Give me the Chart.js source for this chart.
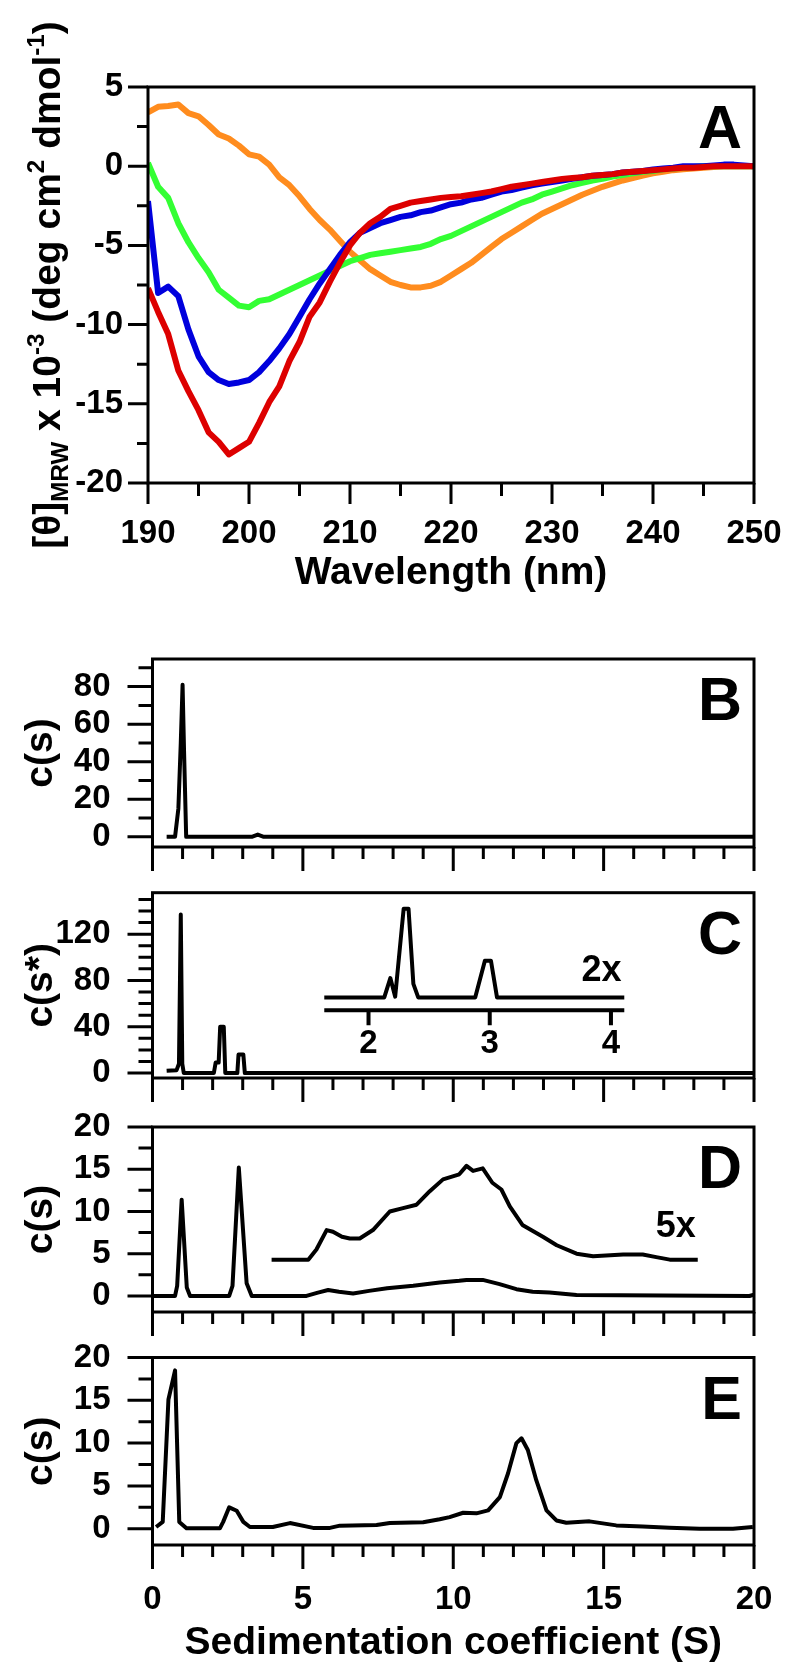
<!DOCTYPE html>
<html>
<head>
<meta charset="utf-8">
<script src="https://cdn.jsdelivr.net/npm/chart.js@4.4.1/dist/chart.umd.min.js"></script>
<style>
  html, body { margin: 0; padding: 0; background: #fff; }
  #wrap { position: relative; width: 800px; height: 1679px; overflow: hidden; }
  canvas { position: absolute; left: 0; }
</style>
</head>
<body>
<div id="wrap">
  <canvas id="cA"></canvas>
  <canvas id="cB"></canvas>
  <canvas id="cC"></canvas>
  <canvas id="cD"></canvas>
  <canvas id="cE"></canvas>
</div>
<script>
const FONT = '"Liberation Sans", Arial, Helvetica, sans-serif';

// ---------- Panel A : CD spectra ----------
const wavelength = [190,191,192,193,194,195,196,197,198,199,200,201,202,203,204,205,206,207,208,209,
  210,211,212,213,214,215,216,217,218,219,220,221,222,223,224,225,226,227,228,229,
  230,231,232,233,234,235,236,237,238,239,240,241,242,243,244,245,246,247,248,249,250];
const redMRW = [-7.7,-9.2,-10.6,-12.9,-14.2,-15.4,-16.8,-17.4,-18.2,-17.8,-17.4,-16.2,-14.9,-13.9,-12.3,-11.1,-9.5,-8.6,-7.3,-6.1,
  -5.0,-4.2,-3.6,-3.2,-2.7,-2.5,-2.3,-2.2,-2.1,-2.0,-1.95,-1.9,-1.8,-1.7,-1.6,-1.45,-1.3,-1.2,-1.1,-1.0,
  -0.9,-0.8,-0.75,-0.7,-0.6,-0.55,-0.5,-0.4,-0.35,-0.3,-0.25,-0.2,-0.15,-0.1,-0.1,-0.05,0,0,0,0,0];
const blueMRW = [-2.2,-8.0,-7.6,-8.2,-10.3,-12.0,-13.0,-13.5,-13.75,-13.65,-13.5,-13.0,-12.3,-11.5,-10.6,-9.5,-8.4,-7.4,-6.5,-5.6,
  -4.8,-4.2,-3.9,-3.6,-3.4,-3.2,-3.1,-2.9,-2.8,-2.6,-2.4,-2.3,-2.1,-2.0,-1.8,-1.6,-1.5,-1.35,-1.2,-1.1,
  -1.0,-0.9,-0.8,-0.7,-0.6,-0.55,-0.5,-0.4,-0.35,-0.3,-0.2,-0.15,-0.1,0,0,0,0.05,0.1,0.1,0.05,0];
const greenMRW = [0.2,-1.3,-2.0,-3.6,-4.8,-5.8,-6.7,-7.8,-8.3,-8.8,-8.9,-8.5,-8.4,-8.1,-7.8,-7.5,-7.2,-6.9,-6.6,-6.3,
  -6.0,-5.8,-5.6,-5.5,-5.4,-5.3,-5.2,-5.1,-4.9,-4.6,-4.4,-4.1,-3.8,-3.5,-3.2,-2.9,-2.6,-2.3,-2.1,-1.8,
  -1.6,-1.4,-1.2,-1.05,-0.9,-0.8,-0.65,-0.55,-0.45,-0.35,-0.3,-0.2,-0.15,-0.1,-0.05,0,0,0,0,0,0];
const orangeMRW = [3.4,3.75,3.8,3.9,3.35,3.15,2.6,2.0,1.75,1.3,0.75,0.6,0.1,-0.7,-1.2,-1.9,-2.7,-3.4,-4.0,-4.7,
  -5.4,-5.95,-6.5,-6.9,-7.3,-7.5,-7.65,-7.65,-7.55,-7.3,-6.9,-6.5,-6.1,-5.6,-5.1,-4.6,-4.2,-3.8,-3.4,-3.0,
  -2.7,-2.4,-2.1,-1.8,-1.55,-1.3,-1.1,-0.9,-0.75,-0.6,-0.45,-0.35,-0.25,-0.2,-0.15,-0.1,-0.05,0,0,0,0];
const aXMajor = [190,200,210,220,230,240,250];
const aXMinor = [195,205,215,225,235,245];
const aYMajor = [-20,-15,-10,-5,0,5];
const aYMinor = [-17.5,-12.5,-7.5,-2.5,2.5];

// ---------- Panels B-E : sedimentation distributions ----------
const sMajor = [0,5,10,15,20];
const sMinor = [1,2,3,4,6,7,8,9,11,12,13,14,16,17,18,19];

const bS = [0.47,0.75,0.86,0.94,1.0,1.05,1.12,3.3,3.5,3.7,20];
const bC = [0,0,15,50,81,45,0,0,1.2,0,0];
const bYMajor = [0,20,40,60,80];
const bYMinor = [10,30,50,70,90];

const cS = [0.47,0.8,0.88,0.94,0.99,1.04,2.04,2.1,2.2,2.25,2.37,2.42,2.82,2.86,3.02,3.07,20];
const cC = [2,2.5,8,137,8,0,0,9,9,40,40,0,0,16,16,0,0];
const cYMajor = [0,40,80,120];
const cYMinor = [10,20,30,50,60,70,90,100,110,130,140,150];
// inset (2x) of panel C, drawn on its own s-axis
const insetS = [1.635,2.13,2.18,2.22,2.29,2.33,2.37,2.41,2.88,2.96,3.01,3.06,4.11];
const insetC = [65.3,65.3,82,66,142,142,77,65.3,65.3,97,97,65.3,65.3];
const insetTicks = [2,3,4];

const dS = [0,0.75,0.82,0.97,1.14,1.25,2.55,2.66,2.87,3.13,3.3,5.12,5.5,5.84,6.2,6.67,7.2,7.8,8.67,9.55,10.2,10.44,10.98,11.54,12.1,12.64,13.2,14.1,19.85,20];
const dC = [0,0,1.2,11.4,1.0,0,0,1.2,15.2,1.5,0,0,0.4,0.7,0.5,0.3,0.6,0.9,1.2,1.6,1.8,1.9,1.9,1.4,0.8,0.5,0.4,0.1,0,0.15];
// 5x expanded trace of panel D
const d5S = [3.96,5.18,5.45,5.79,6.0,6.3,6.56,6.89,7.33,7.89,8.33,8.78,9.22,9.66,10.2,10.44,10.66,10.98,11.3,11.6,11.88,12.3,12.98,13.44,14.1,14.65,15.65,16.3,16.75,17.2,18.13];
const d5C = [4.3,4.3,5.5,7.8,7.6,7.0,6.8,6.8,7.8,10.0,10.4,10.8,12.4,13.8,14.4,15.4,14.8,15.1,13.4,12.6,10.6,8.4,7.0,6.0,5.0,4.7,4.9,4.9,4.6,4.3,4.3];
const dYMajor = [0,5,10,15,20];
const dYMinor = [2.5,7.5,12.5,17.5];

const eS = [0.12,0.34,0.53,0.75,0.89,1.13,2.24,2.35,2.55,2.8,3.02,3.24,4.0,4.57,5.34,5.9,6.23,7.45,7.89,9.0,9.55,9.88,10.33,10.77,11.16,11.55,11.82,12.1,12.27,12.48,12.76,13.1,13.43,13.76,14.53,15.42,16.3,17.19,18.19,19.3,19.96];
const eC = [0.2,0.8,15.1,18.5,0.8,0.05,0.05,0.8,2.5,2.1,0.8,0.2,0.2,0.66,0.1,0.1,0.36,0.43,0.67,0.75,1.1,1.36,1.87,1.8,2.15,3.7,6.45,10.0,10.56,9.2,5.67,2.15,0.97,0.7,0.86,0.39,0.27,0.11,0,0,0.2];
const eYMajor = [0,5,10,15,20];
const eYMinor = [2.5,7.5,12.5,17.5];

const pts = (xs, ys) => xs.map((x, i) => ({ x: x, y: ys[i] }));

function line(ctx, x1, y1, x2, y2) { ctx.moveTo(x1, y1); ctx.lineTo(x2, y2); }

// vertical text made of pieces (normal, sub, sup)
function richVertical(ctx, parts, cx, cy, size) {
  ctx.save();
  ctx.translate(cx, cy);
  ctx.rotate(-Math.PI / 2);
  let total = 0;
  parts.forEach(p => {
    ctx.font = 'bold ' + (p.s ? size * 0.62 : size) + 'px ' + FONT;
    p.w = ctx.measureText(p.t).width;
    total += p.w;
  });
  let x = -total / 2;
  ctx.textAlign = 'left';
  ctx.textBaseline = 'alphabetic';
  parts.forEach(p => {
    ctx.font = 'bold ' + (p.s ? size * 0.62 : size) + 'px ' + FONT;
    const dy = p.s === 'sub' ? size * 0.2 : (p.s === 'sup' ? -size * 0.42 : 0);
    ctx.fillText(p.t, x, dy);
    x += p.w;
  });
  ctx.restore();
}

// frame, minor/major ticks, letters and titles
function decor(cfg) {
  return {
    id: 'decor',
    afterDatasetsDraw(chart) {
      const { ctx, chartArea: a, scales } = chart;
      const x = scales.x, y = scales.y;
      ctx.save();
      ctx.strokeStyle = '#000';
      ctx.fillStyle = '#000';
      ctx.lineWidth = 3;
      ctx.strokeRect(a.left, a.top, a.right - a.left, a.bottom - a.top);
      ctx.beginPath();
      x.ticks.forEach(t => {
        const p = x.getPixelForValue(t.value);
        const L = cfg.xMajor.includes(t.value) ? cfg.xMajorLen : cfg.xMinorLen;
        line(ctx, p, a.bottom, p, a.bottom + L);
      });
      y.ticks.forEach(t => {
        const p = y.getPixelForValue(t.value);
        const L = cfg.yMajor.includes(t.value) ? cfg.yMajorLen : cfg.yMinorLen;
        line(ctx, a.left - L, p, a.left, p);
      });
      ctx.stroke();

      ctx.font = 'bold 61px ' + FONT;
      ctx.textAlign = 'right';
      ctx.textBaseline = 'alphabetic';
      ctx.fillText(cfg.letter, a.right - 12, a.top + 61);

      if (cfg.yRich) {
        richVertical(ctx, cfg.yRich, cfg.yTitleX, (a.top + a.bottom) / 2, 39);
      } else if (cfg.yTitle) {
        richVertical(ctx, [{ t: cfg.yTitle }], cfg.yTitleX, (a.top + a.bottom) / 2, 39);
      }
      if (cfg.xTitle) {
        ctx.font = 'bold 39px ' + FONT;
        ctx.textAlign = 'center';
        ctx.textBaseline = 'middle';
        ctx.fillText(cfg.xTitle, (a.left + a.right) / 2, a.bottom + cfg.xTitleDy);
      }
      if (cfg.extra) cfg.extra(chart, ctx);
      ctx.restore();
    }
  };
}

function panel(cfg) {
  const el = document.getElementById(cfg.id);
  el.width = 800;
  el.height = cfg.height;
  el.style.top = cfg.top + 'px';
  const tickFont = { family: FONT, size: 33, weight: 'bold' };
  const xAll = cfg.xMajor.concat(cfg.xMinor).sort((p, q) => p - q);
  const yAll = cfg.yMajor.concat(cfg.yMinor).sort((p, q) => p - q);
  const scales = {
    x: {
      type: 'linear', min: cfg.xMin, max: cfg.xMax,
      afterBuildTicks: s => { s.ticks = xAll.map(v => ({ value: v })); },
      afterFit: s => { s.height = cfg.top + cfg.height - cfg.chartBottom; },
      grid: { drawOnChartArea: false, tickLength: cfg.xMajorLen, tickColor: 'rgba(0,0,0,0)' },
      border: { display: false },
      ticks: {
        autoSkip: false, maxRotation: 0, padding: cfg.xPad, color: '#000', font: tickFont,
        callback: v => (cfg.xLabels && cfg.xMajor.includes(v)) ? String(v) : ''
      }
    },
    y: {
      type: 'linear', min: cfg.yMin, max: cfg.yMax,
      afterBuildTicks: s => { s.ticks = yAll.map(v => ({ value: v })); },
      afterFit: s => { s.width = cfg.left; },
      grid: { drawOnChartArea: false, tickLength: cfg.yMajorLen, tickColor: 'rgba(0,0,0,0)' },
      border: { display: false },
      ticks: {
        autoSkip: false, padding: cfg.yPad, color: '#000', font: tickFont,
        callback: v => cfg.yMajor.includes(v) ? String(v) : ''
      }
    }
  };
  if (cfg.extraScales) Object.assign(scales, cfg.extraScales);
  return new Chart(el, {
    type: 'line',
    data: { datasets: cfg.datasets },
    options: {
      responsive: false, animation: false, devicePixelRatio: 1,
      layout: { padding: { top: cfg.chartTop - cfg.top, right: 46, left: 0, bottom: 0 } },
      plugins: { legend: { display: false }, tooltip: { enabled: false } },
      elements: { point: { radius: 0 }, line: { tension: 0, borderJoinStyle: 'round', borderCapStyle: 'butt' } },
      scales: scales
    },
    plugins: [decor(cfg)]
  });
}

const cdLine = (color, data) => ({ data: pts(wavelength, data), borderColor: color, borderWidth: 6, fill: false });
const sLine = (xs, ys, axis) => ({ data: pts(xs, ys), borderColor: '#000', borderWidth: 4, fill: false, xAxisID: axis || 'x' });

panel({
  id: 'cA', top: 0, height: 640, chartTop: 87, chartBottom: 483, left: 148,
  xMin: 190, xMax: 250, yMin: -20, yMax: 5,
  xMajor: aXMajor, xMinor: aXMinor, yMajor: aYMajor, yMinor: aYMinor,
  xMajorLen: 21, xMinorLen: 13, yMajorLen: 20, yMinorLen: 11, xPad: 10, yPad: 5,
  xLabels: true, letter: 'A',
  xTitle: 'Wavelength (nm)', xTitleDy: 90, yTitleX: 60,
  yRich: [{ t: '[θ]' }, { t: 'MRW', s: 'sub' }, { t: ' x 10' }, { t: '-3', s: 'sup' }, { t: ' (deg cm' },
          { t: '2', s: 'sup' }, { t: ' dmol' }, { t: '-1', s: 'sup' }, { t: ')' }],
  datasets: [
    cdLine('#dd0000', redMRW),
    cdLine('#0000dd', blueMRW),
    cdLine('#33ff33', greenMRW),
    cdLine('#ff8c1e', orangeMRW)
  ]
});

const sCommon = {
  left: 152.5, xMin: 0, xMax: 20, xMajor: sMajor, xMinor: sMinor,
  xMajorLen: 24, xMinorLen: 12, yMajorLen: 25, yMinorLen: 14, xPad: 11, yPad: 17,
  yTitle: 'c(s)', yTitleX: 52
};

panel(Object.assign({}, sCommon, {
  id: 'cB', top: 614, height: 273, chartTop: 659, chartBottom: 847,
  yMin: -5.4, yMax: 94.7, yMajor: bYMajor, yMinor: bYMinor, letter: 'B',
  datasets: [sLine(bS, bC)]
}));

panel(Object.assign({}, sCommon, {
  id: 'cC', top: 847, height: 271, chartTop: 892.7, chartBottom: 1078,
  yMin: -4.3, yMax: 155.8, yMajor: cYMajor, yMinor: cYMinor, letter: 'C', yTitle: 'c(s*)',
  extraScales: { xi: { type: 'linear', display: false, min: 0.218, max: 5.18 } },
  datasets: [sLine(cS, cC), sLine(insetS, insetC, 'xi')],
  extra: (chart, ctx) => {
    const xi = chart.scales.xi, y = chart.scales.y, x = chart.scales.x;
    const ya = y.getPixelForValue(54.2);
    ctx.lineWidth = 4;
    ctx.beginPath();
    line(ctx, xi.getPixelForValue(insetS[0]), ya, xi.getPixelForValue(insetS[insetS.length - 1]), ya);
    insetTicks.forEach(v => { const p = xi.getPixelForValue(v); line(ctx, p, ya, p, ya + 15); });
    ctx.stroke();
    ctx.font = 'bold 33px ' + FONT;
    ctx.textAlign = 'center';
    ctx.textBaseline = 'middle';
    insetTicks.forEach(v => ctx.fillText(String(v), xi.getPixelForValue(v), ya + 34));
    ctx.font = 'bold 36px ' + FONT;
    ctx.fillText('2x', x.getPixelForValue(14.93), y.getPixelForValue(88));
  }
}));

panel(Object.assign({}, sCommon, {
  id: 'cD', top: 1082, height: 270, chartTop: 1127, chartBottom: 1312,
  yMin: -1.9, yMax: 20, yMajor: dYMajor, yMinor: dYMinor, letter: 'D',
  datasets: [sLine(dS, dC), sLine(d5S, d5C)],
  extra: (chart, ctx) => {
    const x = chart.scales.x, y = chart.scales.y;
    ctx.font = 'bold 36px ' + FONT;
    ctx.textAlign = 'center';
    ctx.textBaseline = 'middle';
    ctx.fillText('5x', x.getPixelForValue(17.4), y.getPixelForValue(8.1));
  }
}));

panel(Object.assign({}, sCommon, {
  id: 'cE', top: 1312, height: 367, chartTop: 1357.5, chartBottom: 1545,
  yMin: -1.9, yMax: 20, yMajor: eYMajor, yMinor: eYMinor, letter: 'E',
  xLabels: true, xTitle: 'Sedimentation coefficient (S)', xTitleDy: 98,
  datasets: [sLine(eS, eC)]
}));
</script>
</body>
</html>
